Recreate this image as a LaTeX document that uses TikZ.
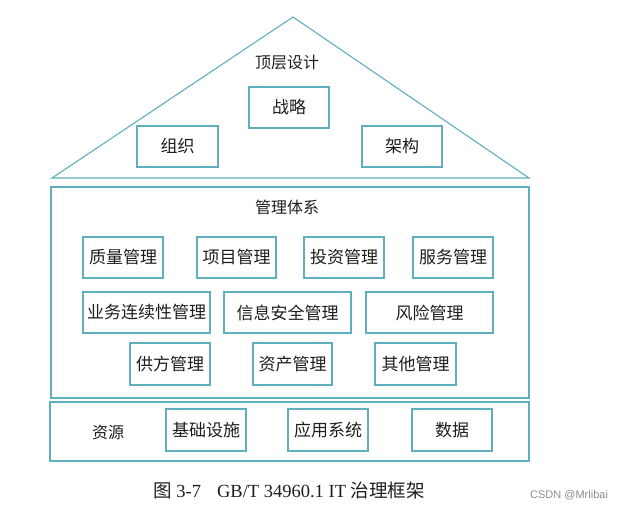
\documentclass[tikz,border=0pt]{standalone}
\usepackage{fontspec}
\setmainfont{Liberation Serif}
\newfontfamily\cjk{Noto Sans CJK SC}
\newfontfamily\wmfont{Liberation Sans}
\usepackage{xcolor}
\definecolor{lineteal}{RGB}{95,175,188}
\definecolor{inkgray}{RGB}{30,30,30}

\begin{document}
\begin{tikzpicture}[
    x=1pt, y=-1pt,
    box/.style={rectangle, draw=lineteal, line width=1.1pt, fill=white,
                minimum width=80pt, minimum height=41pt, inner sep=0pt,
                text=inkgray, font=\cjk\fontsize{17}{20}\selectfont},
    widebox/.style={box, minimum width=127pt},
    frame/.style={draw=lineteal, line width=1.1pt},
    title/.style={text=inkgray, inner sep=0pt, font=\cjk\fontsize{16}{19}\selectfont}
]
\useasboundingbox (0,0) rectangle (632,510);

% --- roof: top level design ---
\coordinate (apex) at (293,17);
\coordinate (eaveL) at (52,178);
\coordinate (eaveR) at (529,178);
\draw[frame, line join=miter] (eaveL) -- (apex) -- (eaveR) -- cycle;
\node[title] (design) at (287,63) {顶层设计};
\node[box] (strategy) at (289,107.5) {战略};
\node[box, minimum width=81pt] (org) at (177.5,146.5) {组织};
\node[box] (arch) at (402,146.5) {架构};

% --- management system ---
\node[frame, rectangle, inner sep=0pt, minimum width=478pt, minimum height=211pt] (mgmt) at (290,292.5) {};
\node[title] (mgmttitle) at (287,207) {管理体系};

% row 1
\node[box] (quality) at (123,257.5) {质量管理};
\node[box, minimum width=79pt] (project) at (236.5,257.5) {项目管理};
\node[box] (invest) at (344,257.5) {投资管理};
\node[box] (service) at (453,257.5) {服务管理};

% row 2
\node[widebox] (bcm) at (146.5,312.5) {业务连续性管理};
\node[widebox] (infosec) at (287.5,312.5) {信息安全管理};
\node[widebox] (risk) at (429.5,312.5) {风险管理};

% row 3
\node[box, minimum height=42pt] (supplier) at (170,364) {供方管理};
\node[box, minimum height=42pt, minimum width=79pt] (asset) at (292.5,364) {资产管理};
\node[box, minimum height=42pt, minimum width=81pt] (other) at (415.5,364) {其他管理};

% --- resources ---
\node[frame, rectangle, inner sep=0pt, minimum width=479pt, minimum height=59pt] (res) at (289.5,431.5) {};
\node[title] (restitle) at (108,432) {资源};
\node[box, minimum height=42pt] (infra) at (206,430) {基础设施};
\node[box, minimum height=42pt] (apps) at (328,430) {应用系统};
\node[box, minimum height=42pt] (data) at (452,430) {数据};

% caption
\node[text=inkgray, inner sep=0pt, font=\fontsize{18.5}{22}\selectfont] (caption) at (289,490)
    {{\cjk 图} 3-7\hspace{16pt}GB/T 34960.1 IT {\cjk 治理框架}};
\node[text=black!45, inner sep=0pt, font=\wmfont\fontsize{11}{13}\selectfont, anchor=west] (mark) at (530,495) {CSDN @Mrlibai};
\end{tikzpicture}
\end{document}
